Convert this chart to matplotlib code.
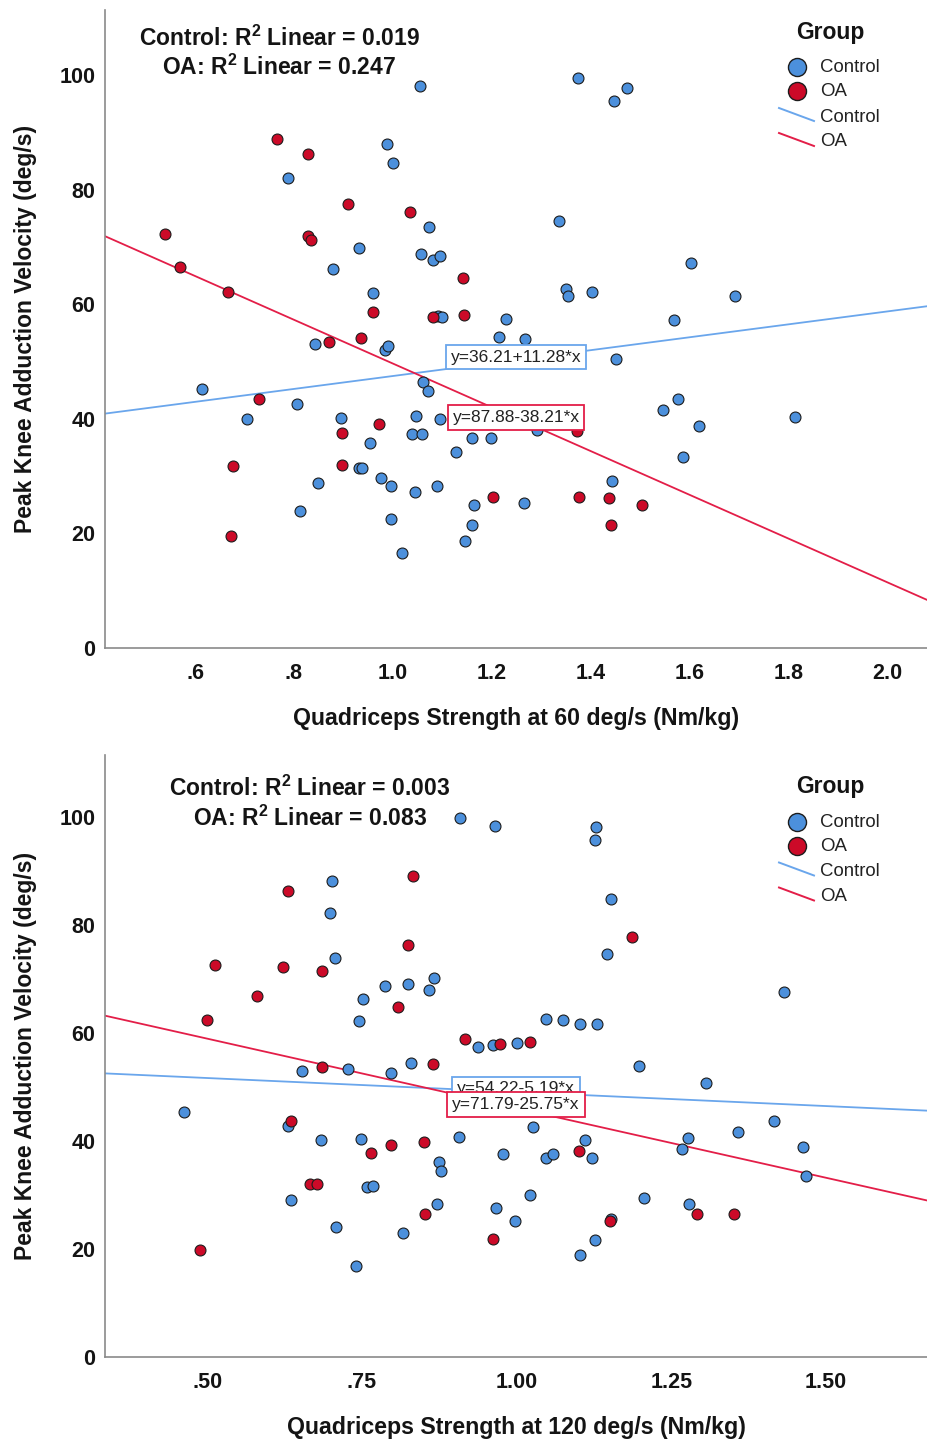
import matplotlib
matplotlib.use("Agg")
import matplotlib.pyplot as plt
from matplotlib.lines import Line2D
import numpy as np

plt.rcParams['font.family'] = ['Liberation Sans', 'DejaVu Sans']
plt.rcParams['mathtext.fontset'] = 'custom'
plt.rcParams['mathtext.rm'] = 'Liberation Sans:bold'
plt.rcParams['mathtext.it'] = 'Liberation Sans:bold:italic'
plt.rcParams['mathtext.bf'] = 'Liberation Sans:bold'

# ---------------- data: top panel (60 deg/s) ----------------
ctrl60_x = [1.054, 0.989, 1.000, 0.789, 1.073, 0.931, 1.056, 1.082, 1.095, 0.880,
            0.959, 1.091, 1.100, 1.228, 1.215, 1.267, 0.843, 0.985, 0.990, 0.615,
            0.806, 1.060, 1.071, 0.706, 0.896, 1.046, 1.096, 1.038, 1.058, 0.953,
            1.161, 1.198, 1.128, 0.932, 0.938, 0.849, 0.977, 0.996, 1.045, 1.089,
            1.164, 1.265, 0.812, 0.996, 1.161, 1.145, 1.019, 1.375, 1.473, 1.447,
            1.336, 1.602, 1.350, 1.355, 1.403, 1.692, 1.569, 1.452, 1.577, 1.546,
            1.813, 1.619, 1.291, 1.587, 1.444]
ctrl60_y = [98.1, 88.0, 84.7, 82.1, 73.5, 69.9, 68.8, 67.8, 68.5, 66.2,
            62.0, 57.9, 57.8, 57.4, 54.3, 54.0, 53.0, 52.0, 52.7, 45.3,
            42.6, 46.4, 44.9, 39.9, 40.1, 40.5, 40.0, 37.4, 37.4, 35.8,
            36.6, 36.7, 34.2, 31.4, 31.5, 28.8, 29.7, 28.2, 27.2, 28.2,
            25.0, 25.4, 23.9, 22.6, 21.5, 18.7, 16.6, 99.6, 97.8, 95.5,
            74.5, 67.3, 62.6, 61.5, 62.1, 61.5, 57.2, 50.5, 43.5, 41.5,
            40.3, 38.8, 38.0, 33.3, 29.1]
oa60_x = [0.765, 0.829, 0.910, 1.034, 0.540, 0.829, 0.834, 0.570, 1.141, 0.667,
          0.959, 1.081, 1.143, 0.936, 0.870, 0.729, 0.898, 0.972, 0.676, 0.897,
          1.202, 0.673, 1.373, 1.377, 1.437, 1.504, 1.441]
oa60_y = [88.9, 86.2, 77.6, 76.1, 72.3, 72.0, 71.3, 66.5, 64.6, 62.1,
          58.6, 57.8, 58.2, 54.2, 53.5, 43.5, 37.5, 39.1, 31.8, 31.9,
          26.3, 19.6, 37.9, 26.3, 26.2, 24.9, 21.5]
fit60_ctrl = (36.21, 11.28)
fit60_oa = (87.88, -38.21)
r2_60 = ("0.019", "0.247")
xticks60 = [0.6, 0.8, 1.0, 1.2, 1.4, 1.6, 1.8, 2.0]
xtlab60 = [".6", ".8", "1.0", "1.2", "1.4", "1.6", "1.8", "2.0"]

# ---------------- data: bottom panel (120 deg/s) ----------------
ctrl120_x = [0.909, 0.965, 0.701, 0.698, 0.706, 0.788, 0.825, 0.866, 0.859, 0.752,
             0.745, 0.937, 0.962, 1.000, 0.830, 0.654, 0.727, 0.797, 1.129, 1.126,
             1.152, 1.146, 1.432, 1.048, 1.075, 1.102, 1.130, 1.198, 0.463, 0.630,
             0.684, 0.749, 0.907, 0.978, 0.874, 0.878, 0.758, 0.768, 0.635, 0.872,
             0.967, 0.998, 0.709, 0.816, 0.741, 1.306, 1.026, 1.416, 1.357, 1.110,
             1.277, 1.267, 1.463, 1.047, 1.058, 1.121, 1.468, 1.022, 1.205, 1.279,
             1.153, 1.127, 1.103]
ctrl120_y = [99.8, 98.2, 88.1, 82.2, 73.8, 68.7, 69.1, 70.1, 67.9, 66.3,
             62.1, 57.4, 57.8, 58.1, 54.4, 53.0, 53.3, 52.5, 98.0, 95.6,
             84.8, 74.6, 67.5, 62.6, 62.3, 61.7, 61.7, 53.9, 45.4, 42.8,
             40.2, 40.3, 40.7, 37.6, 36.1, 34.4, 31.5, 31.7, 29.0, 28.4,
             27.5, 25.2, 24.1, 22.9, 16.9, 50.7, 42.6, 43.7, 41.7, 40.2,
             40.6, 38.4, 38.9, 36.9, 37.6, 36.8, 33.5, 29.9, 29.4, 28.4,
             25.6, 21.7, 18.9]
oa120_x = [0.833, 0.630, 0.824, 0.512, 0.622, 0.685, 0.581, 0.809, 0.499, 0.917,
           0.973, 1.022, 0.865, 0.685, 0.635, 0.765, 0.797, 0.851, 0.666, 0.678,
           0.852, 0.962, 0.489, 1.186, 1.101, 1.292, 1.352, 1.151]
oa120_y = [89.0, 86.2, 76.2, 72.5, 72.1, 71.5, 66.8, 64.7, 62.3, 58.8,
           57.9, 58.3, 54.2, 53.6, 43.7, 37.8, 39.3, 39.8, 32.0, 32.0,
           26.5, 21.8, 19.8, 77.8, 38.2, 26.5, 26.5, 25.1]
fit120_ctrl = (54.22, -5.19)
fit120_oa = (71.79, -25.75)
r2_120 = ("0.003", "0.083")
xticks120 = [0.50, 0.75, 1.00, 1.25, 1.50]
xtlab120 = [".50", ".75", "1.00", "1.25", "1.50"]

yticks = [0, 20, 40, 60, 80, 100]
groups = ["Control", "OA"]

# ---------------- styling ----------------
BLUE = '#4C90DC'
RED = '#CC0A28'
BLUE_LINE = '#6AA6EC'
RED_LINE = '#E31E48'
EDGE = '#1c1c1c'
TXT = '#141414'
W, H = 927, 1439

def fx(px):
    return px / W

def fy(py):
    return 1 - py / H

fig = plt.figure(figsize=(W / 100, H / 100), dpi=100)
ax1 = fig.add_axes([fx(105), fy(648), 822 / W, 638 / H])
ax2 = fig.add_axes([fx(105), fy(1357), 822 / W, 602 / H])


def draw_panel(ax, cx, cy, ox, oy, fc, fo, xlim, xticks, xtlab, xlabel, boxes):
    ax.set_xlim(*xlim)
    ax.set_ylim(0, 111.4)
    xs = np.array(xlim)
    ax.plot(xs, fc[0] + fc[1] * xs, color=BLUE_LINE, lw=1.3, zorder=2, clip_on=True)
    ax.plot(xs, fo[0] + fo[1] * xs, color=RED_LINE, lw=1.3, zorder=2, clip_on=True)
    ax.scatter(cx, cy, s=62, c=BLUE, edgecolors=EDGE, linewidths=0.8, zorder=3)
    ax.scatter(ox, oy, s=62, c=RED, edgecolors=EDGE, linewidths=0.8, zorder=3)
    for spn in ['top', 'right']:
        ax.spines[spn].set_visible(False)
    for spn in ['left', 'bottom']:
        ax.spines[spn].set_color('#8a8a8a')
        ax.spines[spn].set_linewidth(1.2)
    ax.set_xticks(xticks)
    ax.set_xticklabels(xtlab)
    ax.set_yticks(yticks)
    ax.tick_params(axis='both', length=0, labelsize=15.5, colors=TXT)
    ax.tick_params(axis='x', pad=11)
    ax.tick_params(axis='y', pad=7)
    for lab in ax.get_xticklabels() + ax.get_yticklabels():
        lab.set_fontweight('bold')
    ax.set_xlabel(xlabel, fontsize=16.7, color=TXT, fontweight='bold')
    ax.set_ylabel("Peak Knee Adduction Velocity (deg/s)", fontsize=16.5, color=TXT,
                  fontweight='bold')
    ax.yaxis.set_label_coords(-0.083, 0.5)
    (bx, by_c, by_o) = boxes
    ax.text(bx, by_c, "y=%.2f%+.2f*x" % fc, fontsize=12.5, ha='center', va='center',
            color='#222222', zorder=5,
            bbox=dict(boxstyle='square,pad=0.28', fc='white', ec=BLUE_LINE, lw=1.3))
    ax.text(bx, by_o, "y=%.2f%+.2f*x" % fo, fontsize=12.5, ha='center', va='center',
            color='#222222', zorder=6,
            bbox=dict(boxstyle='square,pad=0.28', fc='white', ec=RED_LINE, lw=1.3))


draw_panel(ax1, ctrl60_x, ctrl60_y, oa60_x, oa60_y, fit60_ctrl, fit60_oa,
           (0.418, 2.08), xticks60, xtlab60, "Quadriceps Strength at 60 deg/s (Nm/kg)",
           (1.249, 50.8, 40.3))
ax1.xaxis.set_label_coords(0.5, -0.092)

draw_panel(ax2, ctrl120_x, ctrl120_y, oa120_x, oa120_y, fit120_ctrl, fit120_oa,
           (0.335, 1.663), xticks120, xtlab120, "Quadriceps Strength at 120 deg/s (Nm/kg)",
           (0.999, 49.6, 46.75))
ax2.xaxis.set_label_coords(0.5, -0.098)


def r2_text(cxp, base1, base2, vals):
    fig.text(fx(cxp), fy(base1), "Control: R$^{2}$ Linear = %s" % vals[0],
             fontsize=16.5, ha='center', va='baseline', color=TXT, fontweight='bold')
    fig.text(fx(cxp), fy(base2), "OA: R$^{2}$ Linear = %s" % vals[1],
             fontsize=16.5, ha='center', va='baseline', color=TXT, fontweight='bold')


r2_text(279, 45.5, 75, r2_60)
r2_text(310, 795.5, 825.5, r2_120)


def legend(top):
    # top = pixel y of "Group" centre
    fig.text(fx(830), fy(top), "Group", fontsize=16.5, fontweight='bold',
             ha='center', va='center', color=TXT)
    rows = [(top + 35, BLUE), (top + 59, RED)]
    for (py, col), name in zip(rows, groups):
        fig.add_artist(Line2D([fx(797)], [fy(py)], marker='o', ms=13, mfc=col, mec=EDGE,
                              mew=1.0, ls='none', transform=fig.transFigure))
        fig.text(fx(820), fy(py + 1), name, fontsize=13.4, ha='left', va='center',
                 color='#222222')
    lrows = [(top + 76, BLUE_LINE), (top + 101, RED_LINE)]
    for (py, col), name in zip(lrows, groups):
        fig.add_artist(Line2D([fx(779), fx(814)], [fy(py), fy(py + 13)], color=col, lw=1.4,
                              transform=fig.transFigure))
        fig.text(fx(820), fy(py + 9), name, fontsize=13.4, ha='left', va='center',
                 color='#222222')


legend(32)
legend(786.5)

fig.savefig("out.png", dpi=100, facecolor='white')
